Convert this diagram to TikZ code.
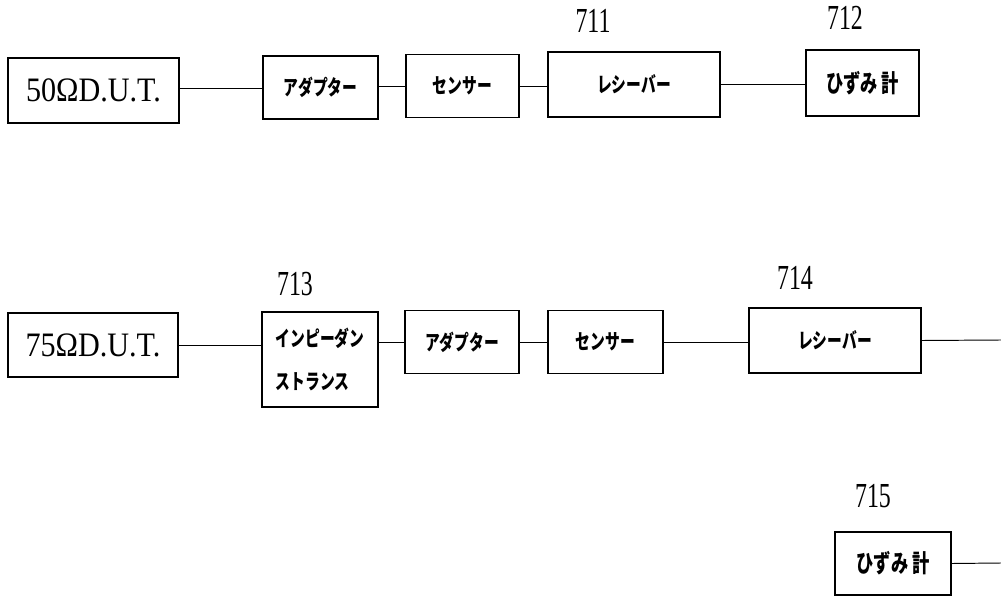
\documentclass[tikz,border=0pt]{standalone}
\usepackage{fontspec}
\setmainfont{Liberation Serif}
\newfontfamily\jpfont{Noto Sans CJK JP}[FakeStretch=0.70]
\newfontfamily\numfont{Liberation Serif}[FakeStretch=0.68]
\newfontfamily\dutfont{Liberation Serif}[FakeStretch=0.88]
\usetikzlibrary{positioning,calc}
\tikzset{
  devbox/.style={draw=black,line width=1.1pt,
                 minimum width=3.42cm,minimum height=1.30cm,
                 inner sep=2pt,font=\dutfont\fontsize{19.5}{21}\selectfont},
  unitbox/.style={draw=black,line width=1.1pt,
                  minimum width=2.28cm,minimum height=1.26cm,
                  inner sep=2pt,align=center,font=\jpfont\bfseries\fontsize{12}{14}\selectfont},
  widebox/.style={unitbox,minimum width=3.44cm,minimum height=1.30cm},
  meterbox/.style={unitbox,minimum width=2.28cm,font=\jpfont\bfseries\fontsize{14}{16}\selectfont},
  wire/.style={line width=0.55pt,draw=black},
  refnum/.style={font=\numfont\fontsize{20}{20}\selectfont,inner sep=0pt}
}

\begin{document}
\begin{tikzpicture}[x=0.02cm,y=0.02cm]
  \useasboundingbox (0,0) rectangle (1001,599);

  % 50 ohm chain
  \node[devbox] (dut50) at (93.5,508.5) {50ΩD.U.T.};
  \node[unitbox,minimum width=2.30cm] (adaptA) at (320.5,511.5) {アダプター};
  \node[unitbox,minimum width=2.26cm] (sensA) at (462.5,513) {センサー};
  \node[widebox] (recvA) at (634,514.5) {レシーバー};
  \node[meterbox,minimum width=2.26cm,minimum height=1.32cm] (meterA) at (862.5,516) {ひずみ 計};
  \node[refnum] (n711) at (593,578) {711};
  \node[refnum] (n712) at (845,581) {712};
  \coordinate (tapA) at ($(dut50.east)+(0,2)$);
  \coordinate (tapB) at ($(adaptA.east)+(0,1)$);
  \draw[wire] (tapA) -- (tapA -| adaptA.west);
  \draw[wire] (tapB) -- (tapB -| sensA.west);
  \draw[wire] (sensA.east) -- (sensA.east -| recvA.west);
  \draw[wire] (recvA.east) -- (recvA.east -| meterA.west);

  % 75 ohm chain
  \node[devbox,minimum width=3.40cm,minimum height=1.28cm] (dut75) at (93,254) {75ΩD.U.T.};
  \node[unitbox,minimum width=2.32cm,minimum height=1.90cm,align=left] (imped) at (320,239.5)
    {インピーダン\\[10pt]ストランス};
  \node[unitbox] (adaptB) at (462,257) {アダプター};
  \node[unitbox,minimum width=2.30cm] (sensB) at (605.5,257) {センサー};
  \node[widebox] (recvB) at (835,258.5) {レシーバー};
  \node[refnum] (n713) at (295,315) {713};
  \node[refnum] (n714) at (795,321.5) {714};
  \coordinate (outB) at (1001,259);
  \draw[wire] (dut75.east) -- (dut75.east -| imped.west);
  \draw[wire] (adaptB.west -| imped.east) -- (adaptB.west);
  \draw[wire] (adaptB.east) -- (sensB.west);
  \draw[wire] (sensB.east) -- (sensB.east -| recvB.west);
  \draw[wire] (recvB.east) -- (outB);

  % separate meter
  \node[meterbox,minimum width=2.32cm] (meterB) at (893,35.5) {ひずみ 計};
  \node[refnum] (n715) at (873,102.5) {715};
  \coordinate (outC) at (1001,36);
  \draw[wire] (meterB.east) -- (outC);
\end{tikzpicture}
\end{document}
